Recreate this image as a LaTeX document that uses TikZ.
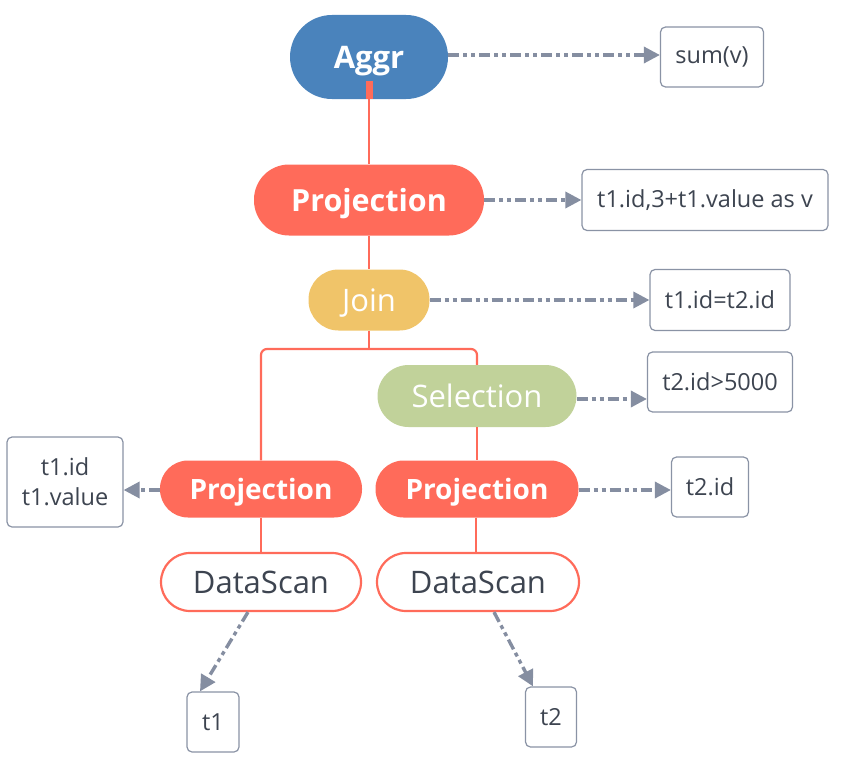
\documentclass[tikz,border=0pt]{standalone}
\usepackage{fontspec}
\setmainfont{Open Sans}
\usetikzlibrary{arrows.meta}
\definecolor{aggrblue}{HTML}{4A83BC}
\definecolor{projred}{HTML}{FF6B5A}
\definecolor{joinyel}{HTML}{F0C469}
\definecolor{selgreen}{HTML}{C1D29A}
\definecolor{lgray}{HTML}{8A93A5}
\definecolor{agray}{HTML}{858EA1}
\definecolor{txtdark}{HTML}{3D4450}
\tikzset{
  op/.style={rectangle, rounded corners=#1, inner sep=0pt, text=white, text depth=0pt, font=\fontsize{31}{36}\selectfont},
  info/.style={rectangle, draw=lgray, line width=1.2pt, rounded corners=5pt, fill=white, text=txtdark, inner sep=0pt, font=\fontsize{23.5}{30}\selectfont, align=center},
  tree/.style={draw=projred, line width=2.2pt},
  ann/.style={draw=agray, line width=3.4pt, dash pattern=on 11pt off 4pt on 4pt off 4pt on 4pt off 4pt, -{Triangle[length=16pt,width=16pt]}},
}
\begin{document}
\begin{tikzpicture}[x=1pt,y=-1pt]
\useasboundingbox (0,0) rectangle (848,760);
% operator nodes
\node[op=42pt, fill=aggrblue, minimum width=158pt, minimum height=84pt, font=\fontsize{31}{36}\selectfont\bfseries] (aggr) at (369,57) {Aggr};
\node[op=35pt, fill=projred, minimum width=230pt, minimum height=71pt, font=\fontsize{30.5}{36}\selectfont\bfseries] (proj) at (369,200) {Projection};
\node[op=30pt, fill=joinyel, minimum width=121pt, minimum height=61pt] (join) at (369,300) {Join};
\node[op=31pt, fill=selgreen, minimum width=199pt, minimum height=62pt] (sel) at (477,396) {Selection};
\node[op=28pt, fill=projred, minimum width=202pt, minimum height=57pt, font=\fontsize{28}{32}\selectfont\bfseries] (projl) at (261,489) {Projection};
\node[op=28pt, fill=projred, minimum width=203pt, minimum height=57pt, font=\fontsize{28}{32}\selectfont\bfseries] (projr) at (477,489) {Projection};
\node[op=29pt, draw=projred, line width=2.2pt, fill=white, text=txtdark, minimum width=200pt, minimum height=58pt] (dsl) at (261,582) {DataScan};
\node[op=29pt, draw=projred, line width=2.2pt, fill=white, text=txtdark, minimum width=202pt, minimum height=58pt] (dsr) at (478,582) {DataScan};
% info boxes
\node[info, minimum width=103pt, minimum height=60pt] (isum) at (712,57) {sum(v)};
\node[info, minimum width=246pt, minimum height=61pt] (iproj) at (705,200) {t1.id,3+t1.value as v};
\node[info, minimum width=140pt, minimum height=61pt] (ijoin) at (720,300) {t1.id=t2.id};
\node[info, minimum width=145pt, minimum height=60pt] (isel) at (720,382) {t2.id>5000};
\node[info, minimum width=116pt, minimum height=90pt] (iprojl) at (65,482) {t1.id\\t1.value};
\node[info, minimum width=77pt, minimum height=60pt] (iprojr) at (710,487) {t2.id};
\node[info, minimum width=52pt, minimum height=60pt] (it1) at (213,722) {t1};
\node[info, minimum width=51pt, minimum height=60pt] (it2) at (551,717) {t2};
% tree connectors
\coordinate (jn) at (369,349);
\draw[tree] (aggr.south) -- (proj.north);
\fill[projred] ([xshift=-3.5pt]aggr.south) rectangle ([xshift=3.5pt,yshift=18pt]aggr.south);
\draw[tree] (proj.south) -- (join.north);
\draw[tree] (join.south) -- (jn);
\draw[tree, rounded corners=6pt] (projl.north) |- (jn) -| (sel.north);
\draw[tree] (sel.south) -- (projr.north);
\draw[tree] (projl.south) -- (dsl.north);
\draw[tree] ([xshift=-1pt]projr.south) -- ([xshift=-2pt]dsr.north);
% annotation arrows
\draw[ann] ([yshift=2pt]aggr.east) -- ([yshift=2pt]isum.west);
\draw[ann] (proj.east) -- (iproj.west);
\draw[ann] (join.east) -- (ijoin.west);
\draw[ann] ([yshift=-3pt]sel.east) -- ([yshift=-3pt]sel.east -| isel.west);
\draw[ann] ([yshift=-1pt]projr.east) -- ([yshift=-1pt]projr.east -| iprojr.west);
\draw[ann] ([yshift=-1pt]projl.west) -- ([yshift=-1pt]projl.west -| iprojl.east);
\draw[ann] ([xshift=-13pt]dsl.south) -- ([xshift=-13pt]it1.north);
\draw[ann] ([xshift=16pt]dsr.south) -- ([xshift=-18pt]it2.north);
\end{tikzpicture}
\end{document}
